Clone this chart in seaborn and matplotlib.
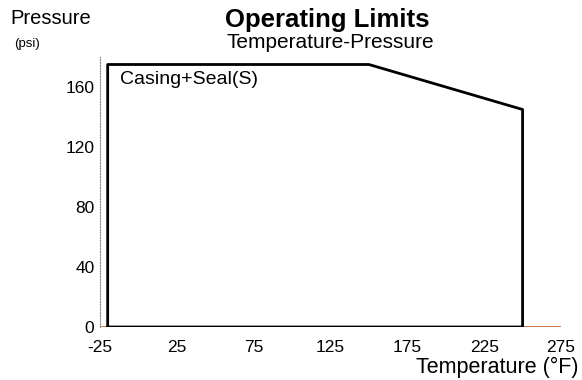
import matplotlib
matplotlib.use("Agg")
import matplotlib.pyplot as plt
import seaborn as sns
import pandas as pd

temps = [-20, -20, 150, 250, 250, -20]
pressures = [0, 175, 175, 145, 0, 0]
xticks = [-25, 25, 75, 125, 175, 225, 275]
yticks = [0, 40, 80, 120, 160]

sns.set_theme(style="white")
plt.rcParams['font.family'] = ['Liberation Sans', 'DejaVu Sans']
plt.rcParams['text.color'] = 'black'

fig = plt.figure(figsize=(5.82, 3.8), dpi=100)
ax = fig.add_axes([100/582, 53/380, (561-100)/582, 270/380])

df = pd.DataFrame({"T": temps, "P": pressures})
sns.lineplot(data=df, x="T", y="P", sort=False, estimator=None, color="black",
             linewidth=2, ax=ax)

ax.set_xlim(-25, 275)
ax.set_ylim(0, 180)
ax.set_xticks(xticks)
ax.set_yticks(yticks)
ax.set_xticklabels([str(v) for v in xticks], fontsize=12.5, color="black")
ax.set_yticklabels([str(v) for v in yticks], fontsize=12.5, color="black")
ax.tick_params(axis='x', length=0, pad=9)
ax.tick_params(axis='y', length=0, pad=4)
ax.set_xlabel("")
ax.set_ylabel("")
for s in ["top", "right", "bottom"]:
    ax.spines[s].set_visible(False)
ax.spines["left"].set_linestyle((0, (1, 1.5)))
ax.spines["left"].set_color("#888888")
ax.spines["left"].set_linewidth(0.8)
ax.axhline(0, color="#c06030", linewidth=1.2, zorder=1)

ax.text(-12, 165, "Casing+Seal(S)", fontsize=14, va="center", ha="left")

fig.text(327/582, 1 - 20/380, "Operating Limits", fontsize=18.5, fontweight="bold",
         ha="center", va="center")
fig.text(330/582, 1 - 42/380, "Temperature-Pressure", fontsize=15,
         ha="center", va="center")
fig.text(10/582, 1 - 19/380, "Pressure", fontsize=14.5, ha="left", va="center")
fig.text(14/582, 1 - 44/380, "(psi)", fontsize=9.5, ha="left", va="center")
fig.text(578/582, 1 - 367/380, "Temperature (°F)", fontsize=15.5, ha="right", va="center")

fig.savefig("out.png", dpi=100)
